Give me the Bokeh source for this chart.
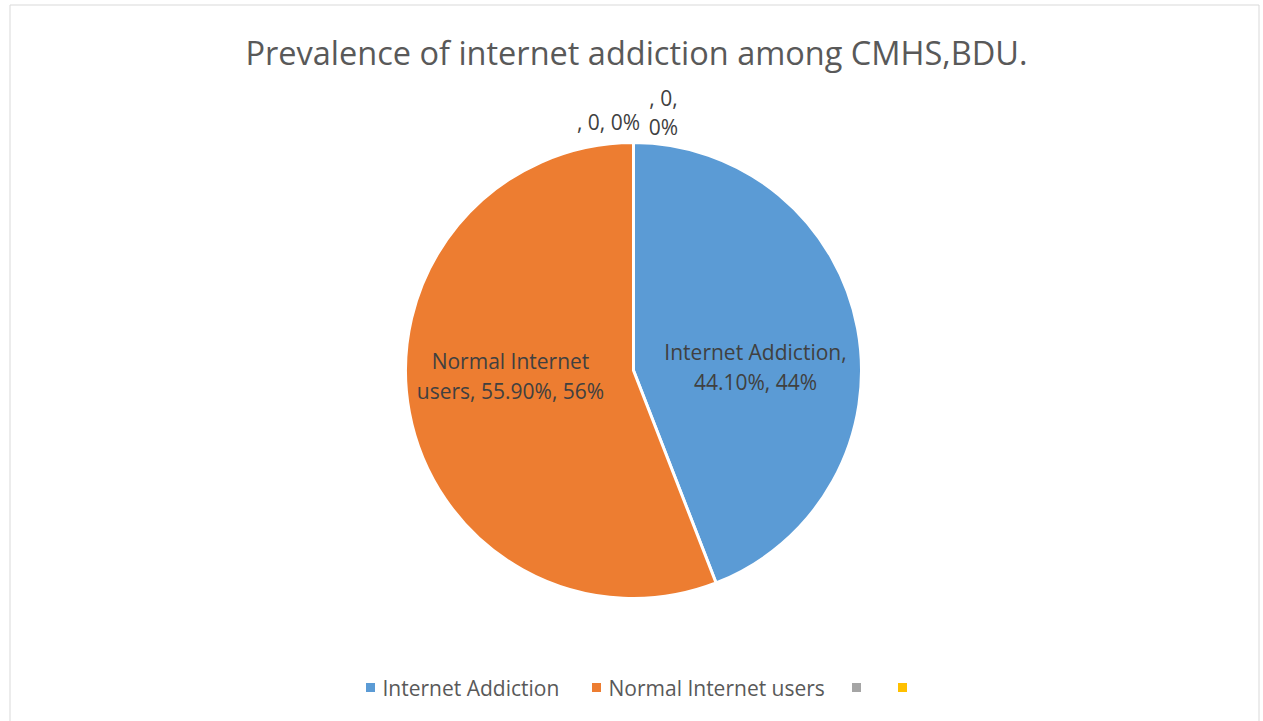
import numpy as np
from bokeh.plotting import figure
from bokeh.models import Range1d
from bokeh.core.properties import value
from bokeh.embed import file_html
from bokeh.resources import INLINE

title = "Prevalence of internet addiction among CMHS,BDU."
categories = ["Internet Addiction", "Normal Internet users", "", ""]
values = [44.10, 55.90, 0, 0]
colors = ["#5B9BD5", "#ED7D31", "#A5A5A5", "#FFC000"]

W, H = 1263, 721
FONT = "Open Sans"
TXT = "#404040"
LEG = "#595959"

p = figure(width=W, height=H, output_backend="svg", toolbar_location=None,
           x_range=Range1d(0, W), y_range=Range1d(0, H), min_border=0)
p.axis.visible = False
p.grid.visible = False
p.outline_line_color = None
p.background_fill_color = "white"
p.border_fill_color = "white"

def Y(py):
    return H - py

# chart frame
p.quad(left=[9.5], right=[1258.5], top=[Y(4.5)], bottom=[Y(740)],
       fill_color=None, line_color="#D9D9D9", line_width=1)

# title
p.text(x=[636], y=[Y(52)], text=[title], text_font=value(FONT), text_font_size="32.5px",
       text_color="#595959", text_align="center", text_baseline="middle")

# pie
cx, cy, r = 633, Y(370), 228
vals = np.array(values, dtype=float)
frac = vals / vals.sum()
cum = np.concatenate([[0], np.cumsum(frac)])
start = np.pi / 2 - cum[1:] * 2 * np.pi
end = np.pi / 2 - cum[:-1] * 2 * np.pi
for i in range(len(vals)):
    if frac[i] > 0:
        p.wedge(x=cx, y=cy, radius=r, start_angle=start[i], end_angle=end[i],
                fill_color=colors[i], line_color="white", line_width=3)

# data labels
pct = [f"{v:.2f}%" for v in vals]
pr = [f"{round(f*100)}%" for f in frac]
lab_lines = [
    [f"{categories[0]},", f"{pct[0]}, {pr[0]}"],
    [f"{categories[1].rsplit(' ', 1)[0]}", f"{categories[1].rsplit(' ', 1)[1]}, {pct[1]}, {pr[1]}"],
    [f"{categories[2]}, {vals[2]:g}, {pr[2]}"],
    [f"{categories[3]}, {vals[3]:g},", f"{pr[3]}"],
]
lab_pos = [(755, [351, 381]), (510, [360, 390]), (608, [121]), (663, [97, 126])]
for lines, (lx, lys) in zip(lab_lines, lab_pos):
    for t, ly in zip(lines, lys):
        p.text(x=[lx], y=[Y(ly)], text=[t], text_font=value(FONT), text_font_size="21px",
               text_color=TXT, text_align="center", text_baseline="middle")

# legend
leg_x = [370, 596, 856, 902]
for i in range(len(categories)):
    p.scatter(x=[leg_x[i]], y=[Y(687)], marker="square", size=9,
              fill_color=colors[i], line_color=None)
    if categories[i]:
        p.text(x=[leg_x[i] + 12], y=[Y(687)], text=[categories[i]], text_font=value(FONT),
               text_font_size="21px", text_color=LEG, text_align="left", text_baseline="middle")

open("out.html", "w").write(file_html(p, INLINE))
